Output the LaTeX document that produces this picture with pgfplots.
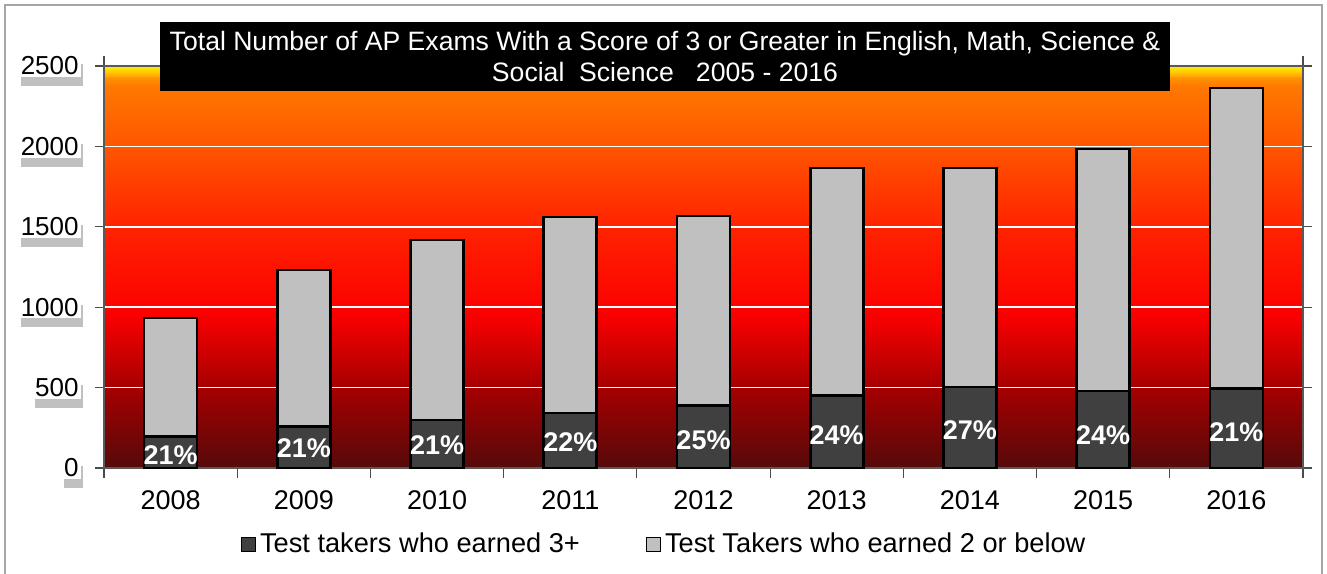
\documentclass[border=0pt]{standalone}
\usepackage{pgfplots}
\pgfplotsset{compat=1.18}
\usepackage{pgfplotstable}
\usepackage{fontspec}
\setmainfont{Liberation Sans}
\usetikzlibrary{shadows}

\definecolor{bgA}{RGB}{85,10,10}
\definecolor{bgB}{RGB}{165,0,0}
\definecolor{bgC}{RGB}{250,0,0}
\definecolor{bgD}{RGB}{255,35,0}
\definecolor{bgE}{RGB}{255,85,0}
\definecolor{bgF}{RGB}{255,120,0}
\definecolor{bgG}{RGB}{255,145,0}
\definecolor{bgH}{RGB}{255,200,0}
\definecolor{bgI}{RGB}{255,240,0}
\definecolor{darkbar}{RGB}{64,64,64}
\definecolor{lightbar}{RGB}{192,192,192}

\pgfdeclareverticalshading{bgshade}{100bp}{color(0bp)=(bgA); color(25bp)=(bgA); color(35bp)=(bgB); color(44bp)=(bgC); color(55bp)=(bgD); color(65bp)=(bgE); color(72.5bp)=(bgF); color(73.5bp)=(bgG); color(74.25bp)=(bgH); color(75bp)=(bgI); color(100bp)=(bgI)}

\pgfplotstableread{
x dark light ly lbl
0 196 737 81 21
1 259 972 124 21
2 298 1120 143 21
3 343 1218 162 22
4 390 1177 174 25
5 450 1416 205 24
6 504 1362 236 27
7 480 1504 205 24
8 496 1867 224 21
}\datatable

\pgfplotsset{
  common/.style={
    at={(52pt,52.5pt)}, anchor=south west,
    scale only axis, width=599.5pt, height=201pt,
    xmin=-0.5, xmax=8.5, ymin=0, ymax=2500,
    /pgf/number format/assume math mode=true,
    /pgf/number format/1000 sep={},
  }
}

\begin{document}
\begin{tikzpicture}
\path[use as bounding box] (0,0) rectangle (663.5pt,286.5pt);
\draw[gray!70, line width=0.8pt] (2.5pt,-5pt) -- (2.5pt,284pt) -- (661pt,284pt) -- (661pt,-5pt);
\begin{axis}[
  common,
  ybar stacked, bar width=26.5pt,
  xtick=data,
  xticklabels={2008,2009,2010,2011,2012,2013,2014,2015,2016},
  minor xtick={-0.5,0.5,...,8.5},
  ytick={0,500,1000,1500,2000,2500},
  tick align=outside,
  major tick length=4.5pt, minor tick length=5pt,
  major x tick style={draw=none},
  minor x tick style={draw=gray!60!black, line width=0.6pt},
  major y tick style={draw=gray!60!black, line width=0.6pt},
  ymajorgrids, major grid style={white, line width=0.8pt},
  axis background/.style={shading=bgshade},
  axis line style={draw=gray!70!black, line width=0.8pt},
  yticklabel style={font=\fontsize{13}{13}\selectfont, fill=white, inner sep=1pt, xshift=-7pt,
     drop shadow={shadow xshift=1pt, shadow yshift=-4.5pt, fill=black!45, opacity=0.55}},
  xticklabel style={font=\fontsize{13.5}{13.5}\selectfont, yshift=-3.5pt},
  legend style={at={(0.468,-0.19)}, anchor=center, draw=none, fill=none,
     font=\fontsize{13.6}{13.6}\selectfont, legend columns=2,
     /tikz/every even column/.append style={column sep=31pt}},
  legend image code/.code={\draw[#1, line width=0.6pt, draw=black] (0pt,-3.5pt) rectangle (7pt,3.5pt);},
  clip=false,
]
\addplot[fill=darkbar, draw=black, line width=1.3pt] table[x=x, y=dark] {\datatable};
\addlegendentry{Test takers who earned 3+}
\addplot[fill=lightbar, draw=black, line width=1.3pt] table[x=x, y=light] {\datatable};
\addlegendentry{Test Takers who earned 2 or below}
\end{axis}
\begin{axis}[
  common, hide axis, clip=false,
]
\addplot[draw=none, mark=none,
  point meta=\thisrow{lbl},
  nodes near coords={\pgfmathprintnumber{\pgfplotspointmeta}\%},
  every node near coord/.append style={anchor=center,
     font=\bfseries\fontsize{13.5}{13.5}\selectfont, text=white}
] table[x=x, y=ly] {\datatable};
\end{axis}
\node[fill=black, text=white, minimum width=505pt, minimum height=34.5pt, inner sep=0pt,
  align=center, font=\fontsize{13.3}{15.5}\selectfont] at (332.5pt,258.25pt)
  {Total Number of AP Exams With a Score of 3 or Greater in English, Math, Science \&\\ Social\ \ Science\ \ \ 2005 - 2016};
\end{tikzpicture}
\end{document}
